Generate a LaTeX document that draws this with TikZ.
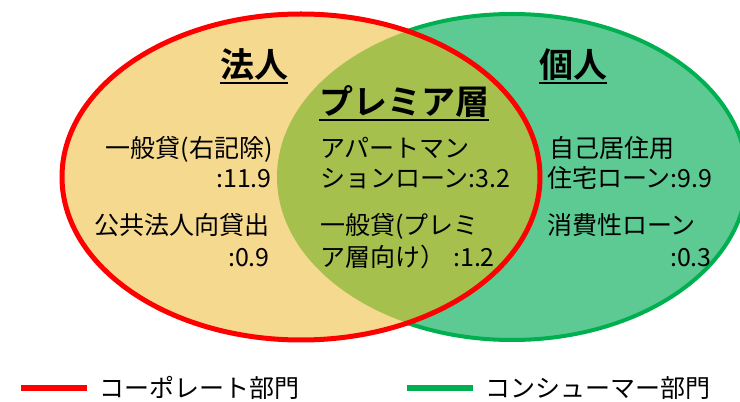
\documentclass[tikz,border=0pt]{standalone}
\usepackage{fontspec}
\setmainfont{Noto Sans CJK JP}[BoldFont={Noto Sans CJK JP Bold}]
\definecolor{cyellow}{HTML}{F5D98E}
\definecolor{cgreen}{HTML}{5DCA93}
\definecolor{colive}{HTML}{A6C04E}
\definecolor{cred}{HTML}{FF0000}
\definecolor{cgreenline}{HTML}{00B050}
\begin{document}
\begin{tikzpicture}[x=1pt,y=1pt,
  body/.style={font=\fontsize{25}{30}\selectfont, inner sep=0pt},
  title/.style={font=\fontsize{34}{40}\selectfont\bfseries, inner sep=0pt},
  uline/.style={line width=2.5pt},
  legline/.style={line width=6pt}]
\useasboundingbox (0,0) rectangle (740,402);
% consumer ellipse
\path[fill=cgreen, draw=cgreenline, line width=4pt] (512,225) ellipse [x radius=235, y radius=163];
% corporate ellipse fill
\path[fill=cyellow] (301,225) ellipse [x radius=239, y radius=163];
% overlap
\begin{scope}
  \clip (512,225) ellipse [x radius=235, y radius=163];
  \fill[colive] (301,225) ellipse [x radius=239, y radius=163];
\end{scope}
% corporate ellipse outline
\draw[cred, line width=5pt] (301,225) ellipse [x radius=239, y radius=163];
% titles
\node[title, anchor=base] (hojin) at (254,324) {法人};
\draw[uline] ([yshift=-5pt]hojin.base west) -- ([yshift=-5pt]hojin.base east);
\node[title, anchor=base] (premia) at (404,287) {プレミア層};
\draw[uline] ([yshift=-5pt]premia.base west) -- ([yshift=-5pt]premia.base east);
\node[title, anchor=base] (kojin) at (573,324) {個人};
\draw[uline] ([yshift=-5pt]kojin.base west) -- ([yshift=-5pt]kojin.base east);
% corporate
\node[body, anchor=base east] (a1) at (273,244) {一般貸(右記除)};
\node[body, anchor=base east] (a2) at (272,214) {:11.9};
\node[body, anchor=base east] (a3) at (270,167) {公共法人向貸出};
\node[body, anchor=base east] (a4) at (270,135) {:0.9};
% premier
\node[body, anchor=base west] (b1) at (320,244) {アパートマン};
\node[body, anchor=base west] (b2) at (320,214) {ションローン:3.2};
\node[body, anchor=base west] (b3) at (320,167) {一般貸(プレミ};
\node[body, anchor=base west] (b4) at (320,135) {ア層向け）\hspace{8pt}:1.2};
% individual
\node[body, anchor=base west] (c1) at (549,244) {自己居住用};
\node[body, anchor=base west] (c2) at (547,214) {住宅ローン:9.9};
\node[body, anchor=base west] (c3) at (547,167) {消費性ローン};
\node[body, anchor=base east] (c4) at (712,135) {:0.3};
% legend
\coordinate (r1) at (21,14);
\coordinate (r2) at (87,14);
\draw[legline, cred] (r1) -- (r2);
\node[body, anchor=base west] (rl) at (99,4) {コーポレート部門};
\coordinate (g1) at (407,14);
\coordinate (g2) at (473,14);
\draw[legline, cgreenline] (g1) -- (g2);
\node[body, anchor=base west] (gl) at (485,4) {コンシューマー部門};
\end{tikzpicture}
\end{document}
